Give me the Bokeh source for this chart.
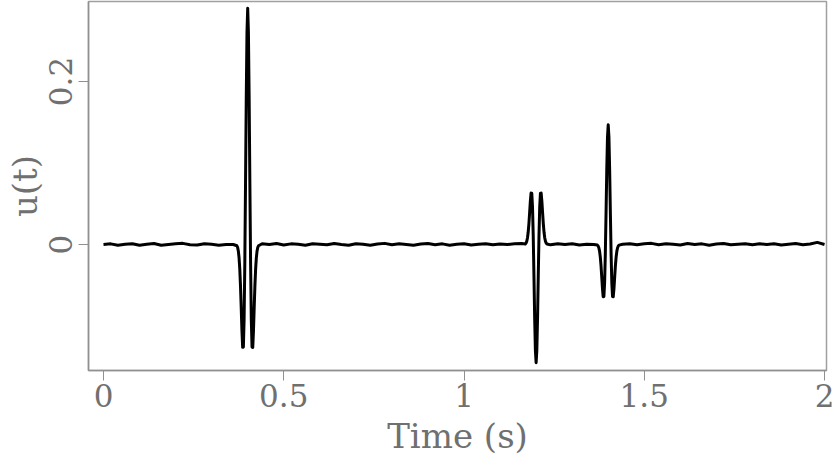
from bokeh.plotting import figure
from bokeh.models import Range1d, FixedTicker
from bokeh.embed import file_html
from bokeh.resources import INLINE

# ---- data ----
x_ticks = [0, 0.5, 1, 1.5, 2]
x_tick_labels = ["0", "0.5", "1", "1.5", "2"]
y_ticks = [0, 0.2]
y_tick_labels = ["0", "0.2"]

# quiet baseline before first arrival
t_seg1 = [0.00, 0.02, 0.04, 0.06, 0.08, 0.10, 0.12, 0.14, 0.16, 0.18,
          0.20, 0.22, 0.24, 0.26, 0.28, 0.30, 0.32, 0.34, 0.36]
u_seg1 = [0.0000, 0.0008, -0.0010, 0.0002, 0.0010, -0.0008, 0.0004, 0.0012, -0.0010, 0.0000,
          0.0010, 0.0014, -0.0002, -0.0006, 0.0010, 0.0002, -0.0008, 0.0000, 0.0000]

# arrival 1 (positive wavelet at 0.4 s)
t_ev1 = [0.370, 0.372, 0.374, 0.376, 0.378, 0.380, 0.382, 0.384, 0.386, 0.388,
         0.390, 0.392, 0.394, 0.396, 0.398, 0.400, 0.402, 0.404, 0.406, 0.408,
         0.410, 0.412, 0.414, 0.416, 0.418, 0.420, 0.422, 0.424, 0.426, 0.428, 0.430]
u_ev1 = [-0.0015, -0.0035, -0.0079, -0.0161, -0.0299, -0.0507, -0.0775, -0.1059, -0.1262, -0.1258,
         -0.0927, -0.0225, 0.0759, 0.1800, 0.2600, 0.2900, 0.2600, 0.1800, 0.0759, -0.0225,
         -0.0927, -0.1258, -0.1262, -0.1059, -0.0775, -0.0507, -0.0299, -0.0161, -0.0079, -0.0035, -0.0015]

t_seg2 = [0.44, 0.46, 0.48, 0.50, 0.52, 0.54, 0.56, 0.58, 0.60, 0.62,
          0.64, 0.66, 0.68, 0.70, 0.72, 0.74, 0.76, 0.78, 0.80, 0.82,
          0.84, 0.86, 0.88, 0.90, 0.92, 0.94, 0.96, 0.98, 1.00, 1.02,
          1.04, 1.06, 1.08, 1.10, 1.12, 1.14, 1.16]
u_seg2 = [0.0010, 0.0000, 0.0012, -0.0006, 0.0008, 0.0002, -0.0010, 0.0010, 0.0004, -0.0004,
          0.0012, 0.0000, -0.0008, 0.0010, 0.0002, -0.0010, 0.0006, 0.0014, -0.0004, 0.0008,
          0.0000, -0.0010, 0.0006, 0.0012, -0.0002, 0.0008, -0.0008, 0.0004, 0.0010, -0.0006,
          0.0002, 0.0010, -0.0004, 0.0006, 0.0000, 0.0008, 0.0012]

# arrival 2 (negative wavelet at 1.2 s)
t_ev2 = [1.170, 1.172, 1.174, 1.176, 1.178, 1.180, 1.182, 1.184, 1.186, 1.188,
         1.190, 1.192, 1.194, 1.196, 1.198, 1.200, 1.202, 1.204, 1.206, 1.208,
         1.210, 1.212, 1.214, 1.216, 1.218, 1.220, 1.222, 1.224, 1.226, 1.228, 1.230]
u_ev2 = [0.0007, 0.0018, 0.0039, 0.0080, 0.0150, 0.0253, 0.0388, 0.0529, 0.0631, 0.0629,
         0.0463, 0.0113, -0.0380, -0.0900, -0.1300, -0.1450, -0.1300, -0.0900, -0.0380, 0.0113,
         0.0463, 0.0629, 0.0631, 0.0529, 0.0388, 0.0253, 0.0150, 0.0080, 0.0039, 0.0018, 0.0007]

t_seg3 = [1.24, 1.26, 1.28, 1.30, 1.32, 1.34, 1.36]
u_seg3 = [-0.0004, 0.0008, 0.0000, 0.0010, -0.0006, 0.0004, 0.0000]

# arrival 3 (positive wavelet at 1.4 s)
t_ev3 = [1.370, 1.372, 1.374, 1.376, 1.378, 1.380, 1.382, 1.384, 1.386, 1.388,
         1.390, 1.392, 1.394, 1.396, 1.398, 1.400, 1.402, 1.404, 1.406, 1.408,
         1.410, 1.412, 1.414, 1.416, 1.418, 1.420, 1.422, 1.424, 1.426, 1.428, 1.430]
u_ev3 = [-0.0007, -0.0018, -0.0040, -0.0081, -0.0152, -0.0257, -0.0393, -0.0537, -0.0640, -0.0638,
         -0.0470, -0.0114, 0.0385, 0.0913, 0.1318, 0.1470, 0.1318, 0.0913, 0.0385, -0.0114,
         -0.0470, -0.0638, -0.0640, -0.0537, -0.0393, -0.0257, -0.0152, -0.0081, -0.0040, -0.0018, -0.0007]

t_seg4 = [1.44, 1.46, 1.48, 1.50, 1.52, 1.54, 1.56, 1.58, 1.60, 1.62,
          1.64, 1.66, 1.68, 1.70, 1.72, 1.74, 1.76, 1.78, 1.80, 1.82,
          1.84, 1.86, 1.88, 1.90, 1.92, 1.94, 1.96, 1.98, 2.00]
u_seg4 = [0.0004, 0.0010, -0.0004, 0.0008, 0.0014, -0.0002, 0.0010, 0.0004, -0.0006, 0.0012,
          0.0000, 0.0008, -0.0008, 0.0006, 0.0012, -0.0004, 0.0004, 0.0010, -0.0002, 0.0008,
          0.0000, 0.0010, -0.0006, 0.0004, 0.0012, -0.0002, 0.0006, 0.0026, 0.0000]

time_s = t_seg1 + t_ev1 + t_seg2 + t_ev2 + t_seg3 + t_ev3 + t_seg4
u_t = u_seg1 + u_ev1 + u_seg2 + u_ev2 + u_seg3 + u_ev3 + u_seg4

# ---- figure ----
p = figure(width=834, height=458,
           x_range=Range1d(-0.0416, 2.0055), y_range=Range1d(-0.1546, 0.2982),
           output_backend="svg", toolbar_location=None,
           min_border_left=88, min_border_right=8, min_border_top=1, min_border_bottom=88)

p.line(time_s, u_t, line_width=3, line_color="black", line_join="round")

p.grid.visible = False
p.outline_line_color = "#a0a0a0"
p.outline_line_width = 1.5
p.background_fill_color = "white"
p.border_fill_color = "white"

font = "DejaVu Serif"
label_color = "#707070"

p.xaxis.ticker = FixedTicker(ticks=x_ticks)
p.xaxis.major_label_overrides = {k: v for k, v in zip(x_ticks, x_tick_labels)}
p.yaxis.ticker = FixedTicker(ticks=y_ticks)
p.yaxis.major_label_overrides = {k: v for k, v in zip(y_ticks, y_tick_labels)}
p.yaxis.major_label_orientation = "vertical"

for ax in (p.xaxis[0], p.yaxis[0]):
    ax.axis_line_color = "#909090"
    ax.axis_line_width = 1.5
    ax.major_tick_line_color = "#909090"
    ax.major_tick_line_width = 1
    ax.major_tick_out = 10
    ax.major_tick_in = 0
    ax.minor_tick_line_color = None
    ax.major_label_text_font = font
    ax.major_label_text_font_size = "31px"
    ax.major_label_text_color = label_color
    ax.axis_label_text_font = font
    ax.axis_label_text_font_size = "34px"
    ax.axis_label_text_font_style = "normal"
    ax.axis_label_text_color = label_color

p.xaxis.major_label_standoff = 3
p.xaxis.axis_label_standoff = 6
p.yaxis.major_label_standoff = 6
p.yaxis.axis_label_standoff = 2

p.xaxis.axis_label = "Time (s)"
p.yaxis.axis_label = "u(t)"

open("out.html", "w").write(file_html(p, INLINE))
